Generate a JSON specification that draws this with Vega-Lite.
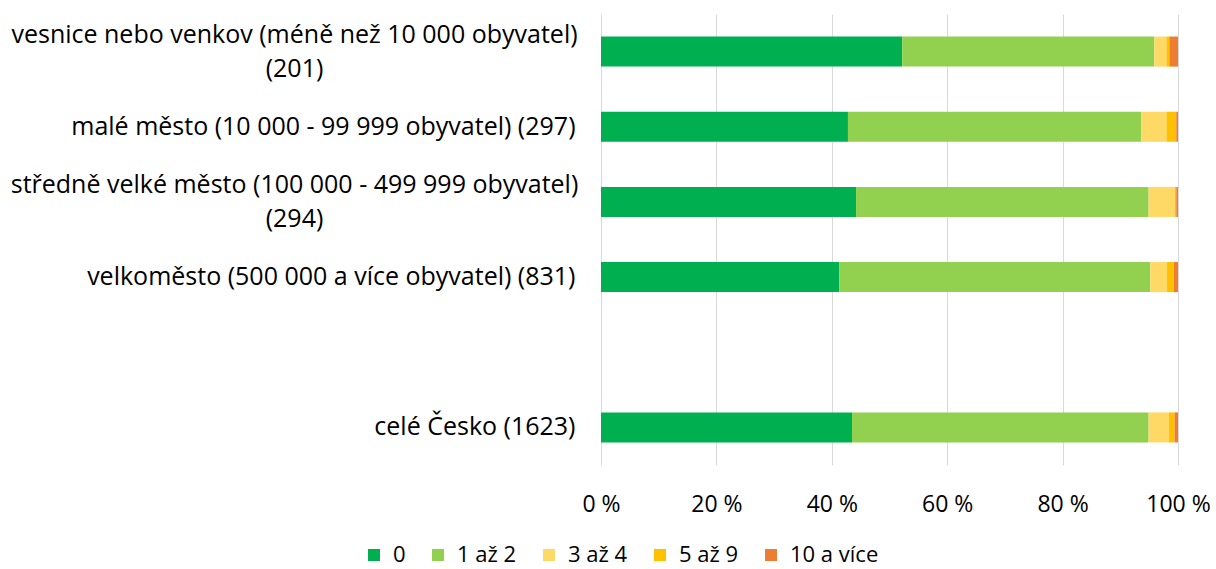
{
  "$schema": "https://vega.github.io/schema/vega-lite/v6.json",
  "autosize": "none",
  "width": 577,
  "height": 451,
  "padding": {"left": 601, "top": 14, "right": 38, "bottom": 104},
  "config": {
    "font": "Open Sans",
    "view": {"stroke": null},
    "axis": {"labelColor": "#000000", "labelFont": "Open Sans"},
    "legend": {"labelColor": "#000000", "labelFont": "Open Sans"}
  },
  "data": {
    "values": [
      {"kategorie": "vesnice nebo venkov (méně než 10 000 obyvatel) (201)", "pocet": "0", "poradi": 1, "podil": 52.2},
      {"kategorie": "vesnice nebo venkov (méně než 10 000 obyvatel) (201)", "pocet": "1 až 2", "poradi": 2, "podil": 43.7},
      {"kategorie": "vesnice nebo venkov (méně než 10 000 obyvatel) (201)", "pocet": "3 až 4", "poradi": 3, "podil": 2.1},
      {"kategorie": "vesnice nebo venkov (méně než 10 000 obyvatel) (201)", "pocet": "5 až 9", "poradi": 4, "podil": 0.5},
      {"kategorie": "vesnice nebo venkov (méně než 10 000 obyvatel) (201)", "pocet": "10 a více", "poradi": 5, "podil": 1.5},
      {"kategorie": "malé město (10 000 - 99 999 obyvatel) (297)", "pocet": "0", "poradi": 1, "podil": 42.8},
      {"kategorie": "malé město (10 000 - 99 999 obyvatel) (297)", "pocet": "1 až 2", "poradi": 2, "podil": 50.8},
      {"kategorie": "malé město (10 000 - 99 999 obyvatel) (297)", "pocet": "3 až 4", "poradi": 3, "podil": 4.4},
      {"kategorie": "malé město (10 000 - 99 999 obyvatel) (297)", "pocet": "5 až 9", "poradi": 4, "podil": 1.7},
      {"kategorie": "malé město (10 000 - 99 999 obyvatel) (297)", "pocet": "10 a více", "poradi": 5, "podil": 0.3},
      {"kategorie": "středně velké město (100 000 - 499 999 obyvatel) (294)", "pocet": "0", "poradi": 1, "podil": 44.2},
      {"kategorie": "středně velké město (100 000 - 499 999 obyvatel) (294)", "pocet": "1 až 2", "poradi": 2, "podil": 50.7},
      {"kategorie": "středně velké město (100 000 - 499 999 obyvatel) (294)", "pocet": "3 až 4", "poradi": 3, "podil": 4.5},
      {"kategorie": "středně velké město (100 000 - 499 999 obyvatel) (294)", "pocet": "5 až 9", "poradi": 4, "podil": 0.3},
      {"kategorie": "středně velké město (100 000 - 499 999 obyvatel) (294)", "pocet": "10 a více", "poradi": 5, "podil": 0.3},
      {"kategorie": "velkoměsto (500 000 a více obyvatel) (831)", "pocet": "0", "poradi": 1, "podil": 41.3},
      {"kategorie": "velkoměsto (500 000 a více obyvatel) (831)", "pocet": "1 až 2", "poradi": 2, "podil": 53.9},
      {"kategorie": "velkoměsto (500 000 a více obyvatel) (831)", "pocet": "3 až 4", "poradi": 3, "podil": 2.9},
      {"kategorie": "velkoměsto (500 000 a více obyvatel) (831)", "pocet": "5 až 9", "poradi": 4, "podil": 1.2},
      {"kategorie": "velkoměsto (500 000 a více obyvatel) (831)", "pocet": "10 a více", "poradi": 5, "podil": 0.7},
      {"kategorie": "celé Česko  (1623)", "pocet": "0", "poradi": 1, "podil": 43.5},
      {"kategorie": "celé Česko  (1623)", "pocet": "1 až 2", "poradi": 2, "podil": 51.4},
      {"kategorie": "celé Česko  (1623)", "pocet": "3 až 4", "poradi": 3, "podil": 3.5},
      {"kategorie": "celé Česko  (1623)", "pocet": "5 až 9", "poradi": 4, "podil": 1.0},
      {"kategorie": "celé Česko  (1623)", "pocet": "10 a více", "poradi": 5, "podil": 0.6}
    ]
  },
  "mark": {"type": "bar"},
  "encoding": {
    "y": {
      "field": "kategorie",
      "type": "nominal",
      "scale": {
        "domain": [
          "vesnice nebo venkov (méně než 10 000 obyvatel) (201)",
          "malé město (10 000 - 99 999 obyvatel) (297)",
          "středně velké město (100 000 - 499 999 obyvatel) (294)",
          "velkoměsto (500 000 a více obyvatel) (831)",
          " ",
          "celé Česko  (1623)"
        ],
        "paddingInner": 0.6,
        "paddingOuter": 0.3
      },
      "axis": {
        "title": null,
        "domain": false,
        "ticks": false,
        "tickSize": 0,
        "grid": false,
        "labelFontSize": 25,
        "labelLineHeight": 34,
        "labelLimit": 700,
        "labelAlign": {
          "condition": {"test": "indexof(datum.value, 'vesnice') == 0 || indexof(datum.value, 'středně') == 0", "value": "center"},
          "value": "right"
        },
        "labelPadding": {
          "condition": {"test": "indexof(datum.value, 'vesnice') == 0 || indexof(datum.value, 'středně') == 0", "value": 307},
          "value": 26
        },
        "labelOffset": {
          "condition": {"test": "indexof(datum.value, 'vesnice') == 0 || indexof(datum.value, 'středně') == 0", "value": -17},
          "value": 0
        },
        "labelExpr": "indexof(datum.value, 'vesnice') == 0 || indexof(datum.value, 'středně') == 0 ? [slice(datum.value, 0, lastindexof(datum.value, ' (')), slice(datum.value, lastindexof(datum.value, ' (') + 1)] : datum.value"
      }
    },
    "x": {
      "field": "podil",
      "type": "quantitative",
      "stack": "zero",
      "scale": {"domain": [0, 100], "nice": false},
      "axis": {
        "title": null,
        "domain": false,
        "ticks": false,
        "tickSize": 0,
        "values": [0, 20, 40, 60, 80, 100],
        "gridColor": "#D9D9D9",
        "gridWidth": 1,
        "labelFontSize": 23,
        "labelPadding": 28,
        "labelFlush": false,
        "labelExpr": "datum.value + ' %'"
      }
    },
    "order": {"field": "poradi", "type": "quantitative"},
    "color": {
      "field": "pocet",
      "type": "nominal",
      "sort": ["0", "1 až 2", "3 až 4", "5 až 9", "10 a více"],
      "scale": {
        "domain": ["0", "1 až 2", "3 až 4", "5 až 9", "10 a více"],
        "range": ["#00B050", "#92D050", "#FFD966", "#FFC000", "#ED7D31"]
      },
      "legend": {
        "title": null,
        "orient": "none",
        "direction": "horizontal",
        "legendX": -238,
        "legendY": 530,
        "padding": 0,
        "symbolType": "square",
        "symbolSize": 144,
        "symbolStrokeWidth": 0,
        "symbolOpacity": 1,
        "labelFontSize": 22,
        "labelOffset": 8,
        "columnPadding": 21
      }
    }
  }
}
